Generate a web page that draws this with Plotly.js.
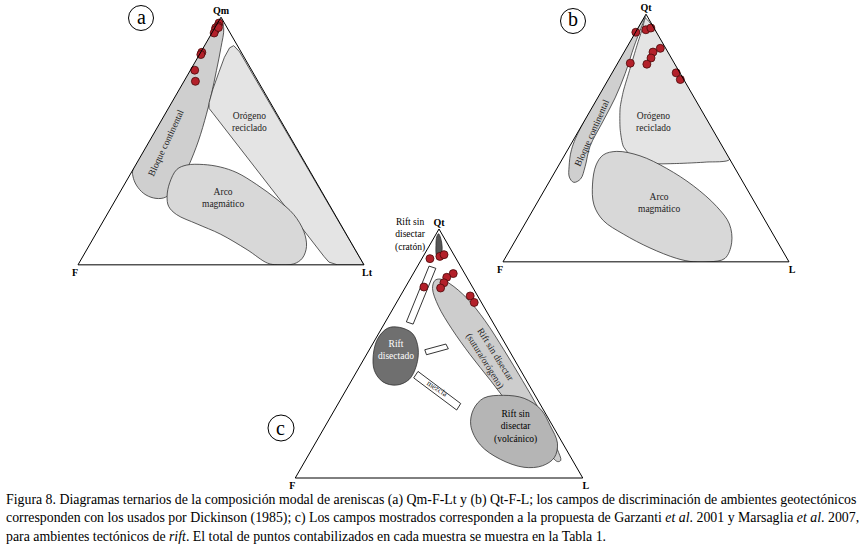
<!DOCTYPE html>
<html>
<head>
<meta charset="utf-8">
<script src="https://cdn.plot.ly/plotly-3.0.1.min.js"></script>
<style>html,body{margin:0;padding:0;background:#fff;}#chart{width:868px;height:547px;}</style>
</head>
<body>
<div id="chart"></div>
<script>
// ---------- DATA (ternary a, b, c fractions) ----------
// Diagram (a): Qm (top) - F (left) - Lt (right)
const samplesA = [[0.976,0.019,0.005],[0.965,0.028,0.007],[0.957,0.040,0.003],[0.949,0.045,0.006],[0.936,0.056,0.008],[0.958,0.030,0.012],[0.858,0.138,0.004],[0.849,0.146,0.005],[0.786,0.199,0.015],[0.741,0.219,0.040]];
const bloqueA = [[0.984,0.007,0.009],[0.385,0.615,0.000],[0.358,0.629,0.013],[0.322,0.635,0.043],[0.288,0.626,0.086],[0.270,0.601,0.129],[0.270,0.566,0.164],[0.291,0.526,0.183],[0.331,0.477,0.192],[0.399,0.414,0.187],[0.500,0.329,0.171],[0.608,0.247,0.145],[0.689,0.189,0.122],[0.784,0.124,0.092],[0.878,0.061,0.061],[0.953,0.014,0.033]];
const orogenoA = [[0.860,0.005,0.135],[0.885,0.013,0.102],[0.876,0.032,0.092],[0.838,0.069,0.093],[0.777,0.119,0.104],[0.709,0.174,0.117],[0.655,0.214,0.131],[0.632,0.226,0.142],[0.611,0.222,0.167],[0.034,0.123,0.843],[0.011,0.117,0.872],[0.000,0.093,0.907],[0.000,0.000,1.000]];
const arcoA = [[0.403,0.418,0.179],[0.405,0.359,0.236],[0.395,0.305,0.300],[0.372,0.258,0.370],[0.324,0.213,0.463],[0.264,0.172,0.564],[0.203,0.144,0.653],[0.135,0.143,0.722],[0.074,0.164,0.762],[0.027,0.202,0.771],[0.004,0.243,0.753],[0.000,0.303,0.697],[0.007,0.334,0.659],[0.061,0.378,0.561],[0.124,0.440,0.436],[0.165,0.501,0.334],[0.203,0.554,0.243],[0.236,0.565,0.199],[0.277,0.550,0.173],[0.331,0.514,0.155],[0.385,0.462,0.153]];

// Diagram (b): Qt (top) - F (left) - L (right)
const samplesB = [[0.927,0.072,0.001],[0.937,0.032,0.031],[0.944,0.011,0.045],[0.862,0.019,0.119],[0.847,0.052,0.101],[0.823,0.071,0.106],[0.798,0.098,0.104],[0.802,0.154,0.044],[0.763,0.013,0.224],[0.736,0.012,0.252]];
const bloqueB = [[0.990,0.007,0.003],[0.551,0.449,0.000],[0.453,0.534,0.013],[0.384,0.577,0.039],[0.342,0.597,0.061],[0.321,0.592,0.087],[0.335,0.561,0.104],[0.384,0.521,0.095],[0.467,0.462,0.071],[0.565,0.369,0.066],[0.662,0.277,0.061],[0.760,0.193,0.047],[0.872,0.105,0.023],[0.962,0.030,0.008]];
const orogenoB = [[0.983,0.010,0.007],[0.414,0.000,0.586],[0.403,0.086,0.511],[0.397,0.194,0.409],[0.397,0.288,0.315],[0.418,0.335,0.247],[0.467,0.346,0.187],[0.537,0.322,0.141],[0.621,0.280,0.099],[0.690,0.234,0.076],[0.781,0.165,0.054],[0.872,0.096,0.032],[0.948,0.037,0.015]];
const arcoB = [[0.446,0.379,0.175],[0.428,0.307,0.265],[0.377,0.239,0.384],[0.307,0.181,0.512],[0.223,0.141,0.636],[0.153,0.132,0.715],[0.077,0.162,0.761],[0.014,0.217,0.769],[0.000,0.277,0.723],[0.000,0.335,0.665],[0.014,0.386,0.600],[0.056,0.458,0.486],[0.112,0.523,0.365],[0.167,0.566,0.267],[0.230,0.567,0.203],[0.314,0.530,0.156],[0.391,0.479,0.130],[0.432,0.433,0.135]];

// Diagram (c): Qt (top) - F (left) - L (right), rift fields
const samplesC = [[0.881,0.091,0.028],[0.890,0.052,0.058],[0.897,0.034,0.069],[0.821,0.040,0.139],[0.806,0.070,0.124],[0.784,0.091,0.125],[0.763,0.113,0.124],[0.767,0.169,0.064],[0.731,0.026,0.243],[0.705,0.025,0.270]];
const cratonC = [[0.981,0.011,0.008],[0.948,0.017,0.035],[0.909,0.035,0.056],[0.877,0.058,0.065],[0.890,0.063,0.047],[0.935,0.043,0.022],[0.968,0.024,0.008]];
const rectTopC = [[0.851,0.109,0.040],[0.842,0.090,0.068],[0.618,0.281,0.101],[0.627,0.300,0.073]];
const suturaC = [[0.793,0.118,0.089],[0.761,0.142,0.097],[0.690,0.157,0.153],[0.599,0.156,0.245],[0.495,0.144,0.361],[0.392,0.125,0.483],[0.288,0.108,0.604],[0.185,0.089,0.726],[0.107,0.069,0.824],[0.066,0.055,0.879],[0.071,0.041,0.888],[0.114,0.031,0.855],[0.179,0.021,0.800],[0.288,0.014,0.698],[0.392,0.014,0.594],[0.515,0.017,0.468],[0.631,0.024,0.345],[0.722,0.042,0.236],[0.780,0.072,0.148],[0.799,0.097,0.104]];
const disectadoC = [[0.605,0.335,0.060],[0.580,0.302,0.118],[0.521,0.312,0.167],[0.450,0.354,0.196],[0.395,0.407,0.198],[0.373,0.462,0.165],[0.386,0.502,0.112],[0.431,0.509,0.060],[0.495,0.481,0.024],[0.560,0.433,0.007],[0.602,0.377,0.021]];
const rectMidC = [[0.515,0.292,0.193],[0.538,0.207,0.255],[0.519,0.208,0.273],[0.495,0.296,0.209]];
const mezclaC = [[0.402,0.387,0.211],[0.428,0.359,0.213],[0.299,0.275,0.426],[0.273,0.302,0.425]];
const volcanicoC = [[0.321,0.184,0.495],[0.332,0.109,0.559],[0.320,0.044,0.636],[0.276,0.008,0.716],[0.211,0.008,0.781],[0.140,0.018,0.842],[0.082,0.058,0.860],[0.049,0.116,0.835],[0.043,0.183,0.774],[0.075,0.249,0.676],[0.133,0.290,0.577],[0.211,0.284,0.505],[0.276,0.242,0.482]];

const axisLabelsA = ['Qm','F','Lt'];
const axisLabelsB = ['Qt','F','L'];
const axisLabelsC = ['Qt','F','L'];

const captionLines = [
  'Figura 8. Diagramas ternarios de la composición modal de areniscas (a) Qm-F-Lt y (b) Qt-F-L; los campos de discriminación de ambientes geotectónicos',
  'corresponden con los usados por Dickinson (1985); c) Los campos mostrados corresponden a la propuesta de Garzanti <i>et al</i>. 2001 y Marsaglia <i>et al</i>. 2007,',
  'para ambientes tectónicos de <i>rift</i>. El total de puntos contabilizados en cada muestra se muestra en la Tabla 1.'
];

// ---------- BUILD ----------
const W = 868, H = 547;
const px = x => x / W;
const py = y => 1 - y / H;
const SERIF = 'Liberation Serif';

function field(pts, sub, fill, opts) {
  opts = opts || {};
  return {
    type: 'scatterternary', subplot: sub, mode: 'lines', fill: 'toself',
    a: pts.map(p => p[0]), b: pts.map(p => p[1]), c: pts.map(p => p[2]),
    fillcolor: fill,
    line: {color: opts.lc || '#333', width: opts.lw || 0.8, shape: opts.shape || 'spline', smoothing: opts.smooth === undefined ? 1 : opts.smooth},
    hoverinfo: 'skip', showlegend: false, cliponaxis: false
  };
}
function closed(pts) { return pts.concat([pts[0]]); }
function samples(pts, sub) {
  return {
    type: 'scatterternary', subplot: sub, mode: 'markers',
    a: pts.map(p => p[0]), b: pts.map(p => p[1]), c: pts.map(p => p[2]),
    marker: {size: 8, color: '#b3202a', line: {color: '#4a0a0a', width: 0.8}},
    showlegend: false, cliponaxis: false, hoverinfo: 'skip'
  };
}

const traces = [
  field(closed(bloqueA), 'ternary', '#cfcfcf'),
  field(closed(orogenoA), 'ternary', '#e4e4e4', {shape: 'linear'}),
  field(closed(arcoA), 'ternary', '#d8d8d8'),
  samples(samplesA, 'ternary'),

  field(closed(bloqueB), 'ternary2', '#cfcfcf'),
  field(closed(orogenoB), 'ternary2', '#e4e4e4', {smooth: 0.6}),
  field(closed(arcoB), 'ternary2', '#d8d8d8'),
  samples(samplesB, 'ternary2'),

  field(closed(suturaC), 'ternary3', '#cdcdcd'),
  field(closed(volcanicoC), 'ternary3', '#b5b5b5'),
  field(closed(disectadoC), 'ternary3', '#6f6f6f'),
  field(closed(cratonC), 'ternary3', '#555555'),
  field(closed(rectTopC), 'ternary3', '#ffffff', {shape: 'linear', lc: '#000'}),
  field(closed(rectMidC), 'ternary3', '#ffffff', {shape: 'linear', lc: '#000'}),
  field(closed(mezclaC), 'ternary3', '#ffffff', {shape: 'linear', lc: '#000'}),
  samples(samplesC, 'ternary3')
];

function ternaryLayout(x0, x1, yTop, yBot, labels) {
  const ax = (t) => ({
    title: {text: '<b>' + t + '</b>', font: {family: SERIF, size: 10, color: '#000'}},
    showgrid: false, showticklabels: false, ticks: '', showline: true,
    linecolor: '#000', linewidth: 1, min: 0
  });
  return {
    domain: {x: [px(x0), px(x1)], y: [py(yBot), py(yTop)]},
    bgcolor: 'rgba(0,0,0,0)', sum: 1,
    aaxis: ax(labels[0]), baxis: ax(labels[1]), caxis: ax(labels[2])
  };
}

const ann = [];
function label(text, x, y, size, opts) {
  opts = opts || {};
  ann.push({xref: 'paper', yref: 'paper', x: px(x), y: py(y), text: text, showarrow: false,
    font: {family: SERIF, size: size, color: opts.color || '#222'}, textangle: opts.angle || 0,
    xanchor: opts.xanchor || 'center', yanchor: opts.yanchor || 'middle', align: opts.align || 'center'});
}
// field names
label('Bloque continental', 166, 143, 9.5, {angle: -65});
label('Orógeno<br>reciclado', 250, 122, 9.5);
label('Arco<br>magmático', 223, 198, 9.5);
label('Bloque continental', 592, 133, 9.5, {angle: -66});
label('Orógeno<br>reciclado', 653, 122, 9.5);
label('Arco<br>magmático', 659, 203, 9.5);
label('Rift sin<br>disectar<br>(cratón)', 410, 235, 9.5, {color: '#000'});
label('Rift<br>disectado', 396, 350, 9.5, {color: '#fff'});
label('mezcla', 437, 388, 8, {angle: 33});
label('Rift sin disectar<br>(sutura/orógeno)', 490, 357, 9.5, {angle: 58});
label('Rift sin<br>disectar<br>(volcánico)', 515, 427, 9.5, {color: '#000'});
// panel letters
label('a', 141, 17, 20, {color: '#000'});
label('b', 573, 19, 20, {color: '#000'});
label('c', 280, 428, 20, {color: '#000'});
// caption
captionLines.forEach((t, i) => {
  ann.push({xref: 'paper', yref: 'paper', x: px(4), y: py(500 + i * 18.3), text: t, showarrow: false,
    xanchor: 'left', yanchor: 'middle', align: 'left', font: {family: SERIF, size: 13.85, color: '#000'}});
});

const circ = (cx, cy, r) => ({type: 'circle', xref: 'paper', yref: 'paper',
  x0: px(cx - r), x1: px(cx + r), y0: py(cy + r), y1: py(cy - r), line: {color: '#000', width: 1}});

const layout = {
  width: W, height: H, margin: {l: 0, r: 0, t: 0, b: 0},
  paper_bgcolor: '#fff', showlegend: false,
  ternary: ternaryLayout(78, 364, 17, 265, axisLabelsA),
  ternary2: ternaryLayout(503, 789, 14, 262, axisLabelsB),
  ternary3: ternaryLayout(295, 583, 229, 478, axisLabelsC),
  annotations: ann,
  shapes: [circ(141, 18, 12.5), circ(573, 21, 12.5), circ(281, 428, 13)]
};

Plotly.newPlot('chart', traces, layout, {staticPlot: true, displayModeBar: false});
</script>
</body>
</html>
